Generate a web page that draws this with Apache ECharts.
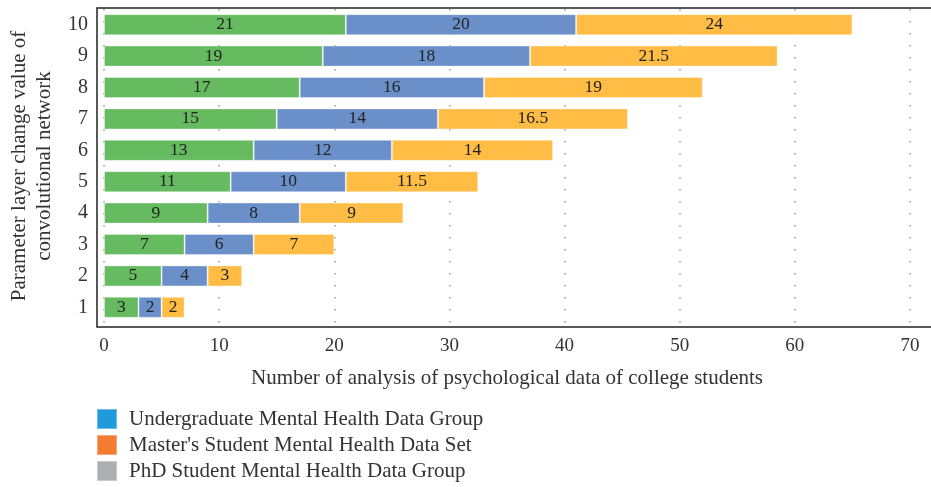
<!DOCTYPE html>
<html><head><meta charset="utf-8">
<script src="https://cdn.jsdelivr.net/npm/echarts@6/dist/echarts.min.js"></script>
<style>html,body{margin:0;padding:0;background:#fff}#c{width:931px;height:487px}</style>
</head><body><div id="c"></div>
<script>
const categories = ['1','2','3','4','5','6','7','8','9','10'];
const undergrad = [3,5,7,9,11,13,15,17,19,21];
const masters = [2,4,6,8,10,12,14,16,18,20];
const phd = [2,3,7,9,11.5,14,16.5,19,21.5,24];
const seriesNames = ['Undergraduate Mental Health Data Group', "Master's Student Mental Health Data Set", 'PhD Student Mental Health Data Group'];
const barColors = ['#66bb60', '#6b90c9', '#ffbd45'];
const legendColors = ['#1f9bdc', '#f47c30', '#adaeb2'];
const xTicks = [0,10,20,30,40,50,60,70];

const F = 'Liberation Serif, DejaVu Serif, serif';
const chart = echarts.init(document.getElementById('c'));
const vals = [undergrad, masters, phd];
chart.setOption({
  animation: false,
  textStyle: {fontFamily: F},
  grid: {left: 104, top: 9, width: 806, height: 314, containLabel: false, outerBoundsMode: 'none'},
  graphic: [{type: 'rect', shape: {x: 97, y: 8, width: 900, height: 319}, style: {fill: 'none', stroke: '#222', lineWidth: 1.5}, silent: true, z: 10}],
  legend: {
    orient: 'vertical', left: 96, top: 408, height: 90, padding: 0, itemWidth: 20, itemHeight: 20, itemGap: 4,
    icon: 'rect',
    textStyle: {fontFamily: F, fontSize: 21, lineHeight: 20, color: '#333', padding: [0,0,0,7]},
    data: seriesNames.map((n, i) => ({name: n, itemStyle: {color: legendColors[i]}}))
  },
  xAxis: {
    type: 'value', min: 0, max: 70, interval: 10,
    axisLine: {show: false}, axisTick: {show: false},
    splitLine: {show: true, lineStyle: {color: '#999', type: [1.5, 10.5], width: 1.5}},
    axisLabel: {fontFamily: F, fontSize: 19, color: '#333', margin: 14,
      formatter: v => xTicks.includes(v) ? String(v) : ''},
    name: 'Number of analysis of psychological data of college students',
    nameLocation: 'middle', nameGap: 45,
    nameTextStyle: {fontFamily: F, fontSize: 21, color: '#333'}
  },
  yAxis: {
    type: 'category', data: categories,
    axisLine: {show: false}, axisTick: {show: false},
    axisLabel: {fontFamily: F, fontSize: 20, color: '#333', margin: 16},
    name: 'Parameter layer change value of\nconvolutional network',
    nameLocation: 'middle', nameGap: 46, nameRotate: 90,
    nameTextStyle: {fontFamily: F, fontSize: 21, color: '#333', lineHeight: 25}
  },
  series: seriesNames.map((n, i) => ({
    name: n, type: 'bar', stack: 'total', data: vals[i],
    barCategoryGap: '33%',
    itemStyle: {color: barColors[i], borderColor: 'rgba(255,255,255,0.35)', borderWidth: 1},
    label: {show: true, position: 'inside', color: '#222', fontFamily: F, fontSize: 17.5}
  }))
});
</script></body></html>
